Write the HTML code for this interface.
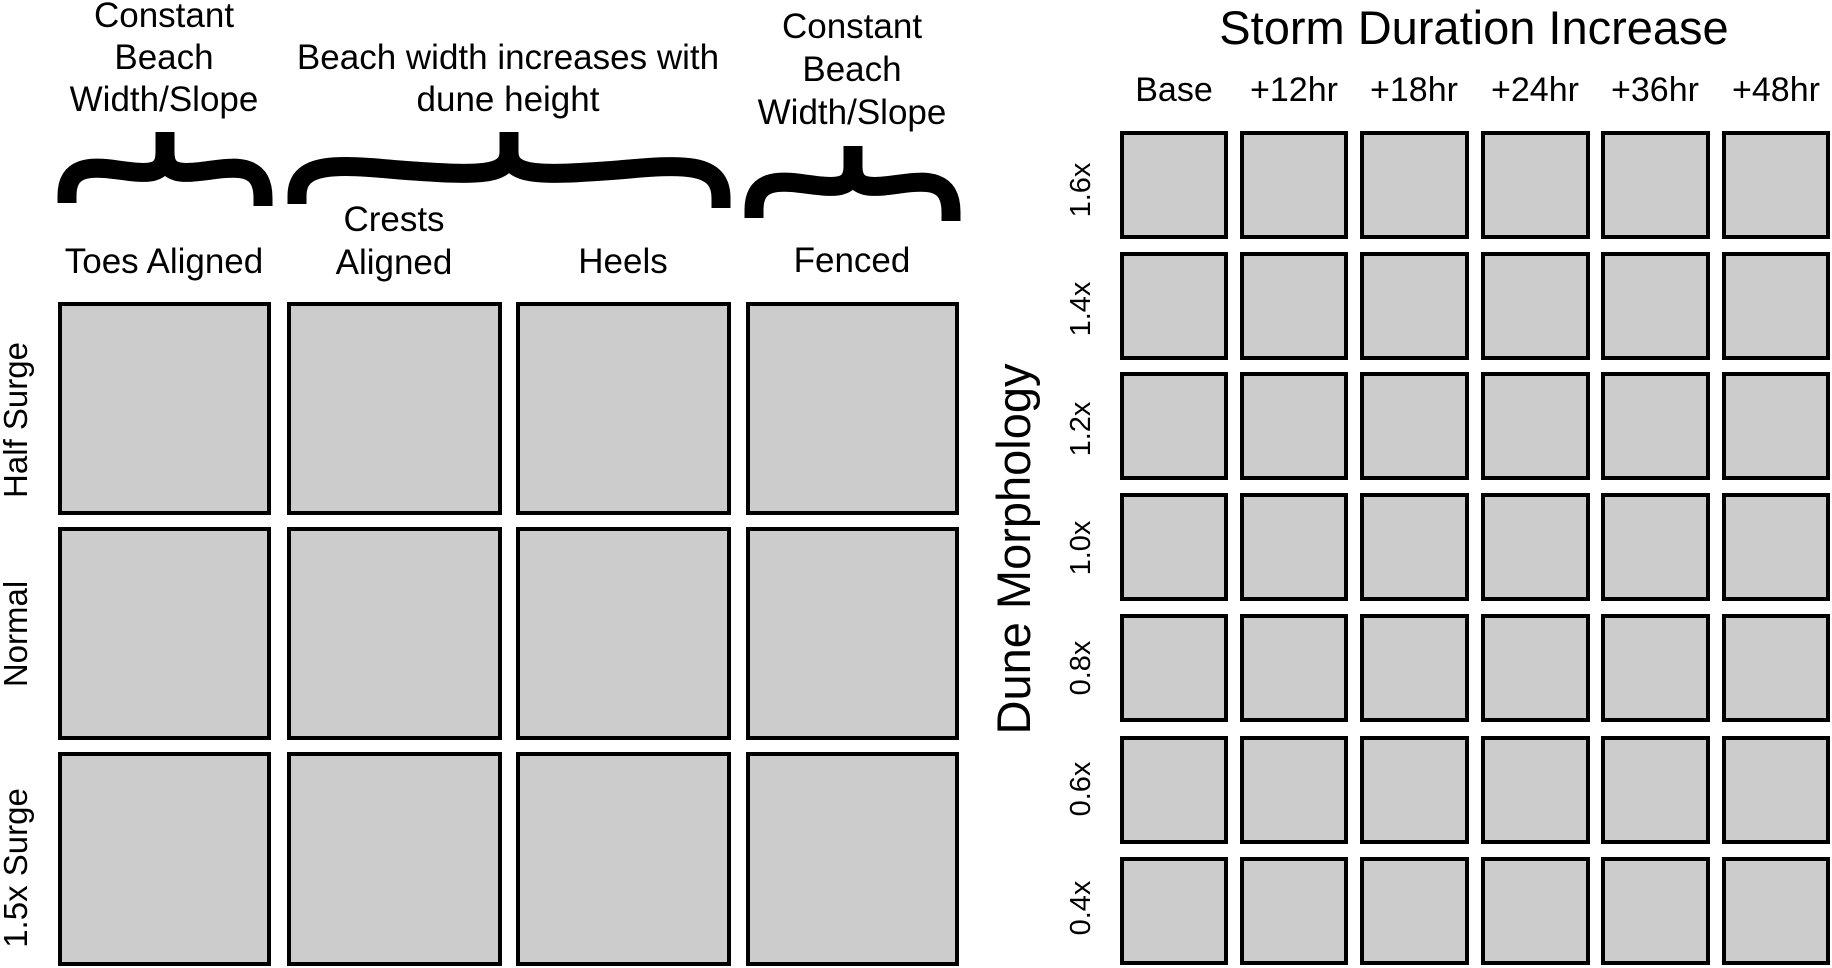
<!DOCTYPE html>
<html><head><meta charset="utf-8"><style>
html,body{margin:0;padding:0;background:#fff;width:1832px;height:968px;overflow:hidden}
svg{display:block}
text{font-family:"Liberation Sans",Arial,sans-serif;fill:#000}
</style></head><body>
<svg width="1832" height="968" viewBox="0 0 1832 968" xmlns="http://www.w3.org/2000/svg">
<g fill="#cccccc" stroke="#000" stroke-width="4">
<rect x="60" y="304" width="209" height="209"/><rect x="289" y="304" width="211" height="209"/><rect x="518" y="304" width="211" height="209"/><rect x="748" y="304" width="209" height="209"/>
<rect x="60" y="529" width="209" height="209"/><rect x="289" y="529" width="211" height="209"/><rect x="518" y="529" width="211" height="209"/><rect x="748" y="529" width="209" height="209"/>
<rect x="60" y="754" width="209" height="210"/><rect x="289" y="754" width="211" height="210"/><rect x="518" y="754" width="211" height="210"/><rect x="748" y="754" width="209" height="210"/>
</g>
<g fill="#cccccc" stroke="#000" stroke-width="4">
<g id="r1">
<rect x="1122" y="133" width="104" height="104"/><rect x="1242" y="133" width="104" height="104"/><rect x="1362" y="133" width="105" height="104"/><rect x="1483" y="133" width="105" height="104"/><rect x="1603" y="133" width="105" height="104"/><rect x="1724" y="133" width="104" height="104"/>
</g>
<use href="#r1" y="121"/><use href="#r1" y="241"/><use href="#r1" y="362"/><use href="#r1" y="483"/><use href="#r1" y="605"/><use href="#r1" y="726"/>
</g>
<g fill="none" stroke="#000" stroke-width="19">
<path d="M67,203 V196 C67,166 90,166 118,170 C148,174 165,176 165,152 V132 M165,152 C165,176 182,174 212,170 C240,166 263,166 263,198 V206"/>
<path d="M297,204 V196 C297,162 335,164 400,170 C480,176 509,176 509,152 V132 M509,152 C509,176 538,176 618,170 C683,164 721,162 721,198 V208"/>
<path d="M754,218 V210 C754,180 777,180 805,184 C835,188 853,190 853,166 V146 M853,166 C853,190 870,188 900,184 C928,180 951,180 951,212 V221"/>
</g>
<g font-size="35" text-anchor="middle">
<text x="164" y="27">Constant</text><text x="164" y="69">Beach</text><text x="164" y="111">Width/Slope</text>
<text x="508" y="69">Beach width increases with</text><text x="508" y="111">dune height</text>
<text x="852" y="38">Constant</text><text x="852" y="81">Beach</text><text x="852" y="124">Width/Slope</text>
<text x="164" y="273">Toes Aligned</text>
<text x="394" y="231">Crests</text><text x="394" y="274">Aligned</text>
<text x="623" y="273">Heels</text>
<text x="852" y="272">Fenced</text>
</g>
<g font-size="33" text-anchor="middle">
<text transform="translate(27,420) rotate(-90)">Half Surge</text>
<text transform="translate(27,634) rotate(-90)">Normal</text>
<text transform="translate(27,868) rotate(-90)">1.5x Surge</text>
</g>
<g font-size="34" text-anchor="middle">
<text x="1174" y="101">Base</text><text x="1294" y="101">+12hr</text><text x="1414" y="101">+18hr</text><text x="1535" y="101">+24hr</text><text x="1655" y="101">+36hr</text><text x="1776" y="101">+48hr</text>
</g>
<text x="1474" y="44" font-size="47" text-anchor="middle">Storm Duration Increase</text>
<text transform="translate(1030,549) rotate(-90)" font-size="47" text-anchor="middle">Dune Morphology</text>
<g font-size="29" text-anchor="middle">
<text transform="translate(1090,190) rotate(-90)">1.6x</text>
<text transform="translate(1090,309) rotate(-90)">1.4x</text>
<text transform="translate(1090,429) rotate(-90)">1.2x</text>
<text transform="translate(1090,548) rotate(-90)">1.0x</text>
<text transform="translate(1090,668) rotate(-90)">0.8x</text>
<text transform="translate(1090,789) rotate(-90)">0.6x</text>
<text transform="translate(1090,908) rotate(-90)">0.4x</text>
</g>
</svg>
</body></html>
